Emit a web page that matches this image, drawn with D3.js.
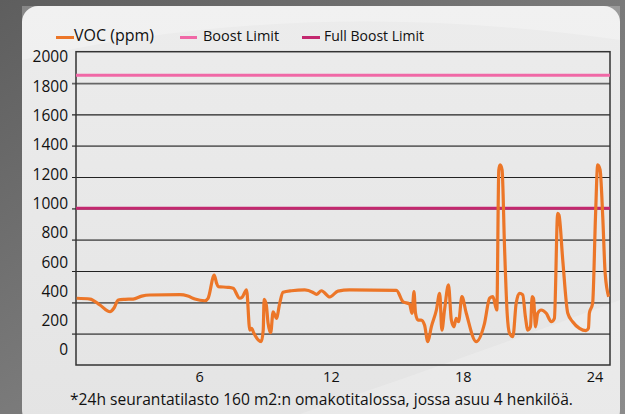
<!DOCTYPE html>
<html>
<head>
<meta charset="utf-8">
<script src="https://cdn.jsdelivr.net/npm/d3@7"></script>
<style>
  html, body { margin: 0; padding: 0; background: #6c6c6c; }
  svg { display: block; font-family: "Open Sans", "Noto Sans", sans-serif; }
</style>
</head>
<body>
<svg id="chart"></svg>
<script>
// hour of day, VOC in ppm
const hours = [0.43, 1.04, 1.49, 1.95, 2.13, 2.32, 2.63, 3.0, 3.39, 3.76, 5.13, 5.49, 5.81, 6.26, 6.41, 6.69, 6.8, 6.87, 7.32, 7.55,
  7.85, 7.96, 8.16, 8.31, 8.39, 8.49, 8.69, 8.83, 8.92, 8.96, 9.06, 9.14, 9.26, 9.37, 9.45, 9.52, 9.67, 9.82, 10.2, 10.81,
  11.19, 11.34, 11.57, 11.95, 12.32, 12.85, 14.98, 15.28, 15.58, 15.69, 15.78, 15.85, 15.96, 16.11, 16.26, 16.41, 16.57, 16.8, 16.95, 17.05,
  17.17, 17.35, 17.48, 17.6, 17.7, 17.81, 17.96, 18.16, 18.61, 18.99, 19.22, 19.37, 19.55, 19.64, 19.7, 19.79, 19.9, 20.02, 20.13, 20.28,
  20.43, 20.58, 20.73, 20.85, 20.96, 21.08, 21.16, 21.22, 21.31, 21.41, 21.57, 21.8, 22.03, 22.17, 22.32, 22.38, 22.55, 22.78, 23.0, 23.31,
  23.61, 23.72, 23.76, 23.91, 24.04, 24.14, 24.25, 24.37, 24.48, 24.64];
const voc = [426, 421, 383, 340, 364, 415, 419, 421, 440, 447, 449, 440, 421, 410, 426, 574, 521, 500, 496, 490,
  426, 432, 479, 223, 234, 204, 160, 149, 223, 419, 383, 268, 206, 340, 319, 298, 394, 464, 474, 479,
  463, 451, 474, 434, 472, 479, 476, 404, 389, 330, 468, 330, 287, 287, 255, 149, 244, 351, 458, 223,
  351, 511, 287, 244, 298, 276, 436, 330, 149, 266, 426, 436, 351, 1245, 1277, 1245, 755, 330, 202, 181,
  394, 458, 447, 308, 223, 244, 436, 426, 244, 330, 351, 330, 276, 298, 968, 957, 670, 330, 276, 234,
  219, 234, 330, 394, 947, 1277, 1245, 947, 585, 436];

const boostLimit = 1850;
const fullBoostLimit = 1000;

const yTicks = [0, 200, 400, 600, 800, 1000, 1200, 1400, 1600, 1800, 2000];
const xTicks = [6, 12, 18, 24];

const legendItems = [
  { label: "VOC (ppm)", color: "#ec7628" },
  { label: "Boost Limit", color: "#f068a6" },
  { label: "Full Boost Limit", color: "#c3286f" }
];
const footnote = "*24h seurantatilasto 160 m2:n omakotitalossa, jossa asuu 4 henkilöä.";

const W = 625, H = 414;
const plot = { left: 76, right: 610, top: 51.7, bottom: 365 };

const svg = d3.select("#chart").attr("width", W).attr("height", H);

// background
const defs = svg.append("defs");
const bg = defs.append("linearGradient").attr("id", "bg")
    .attr("x1", 0).attr("y1", 0).attr("x2", 1).attr("y2", 1);
bg.append("stop").attr("offset", 0).attr("stop-color", "#5e5e5e");
bg.append("stop").attr("offset", 0.5).attr("stop-color", "#7a7a7a");
bg.append("stop").attr("offset", 1).attr("stop-color", "#8c8c8c");
svg.append("rect").attr("width", W).attr("height", H).attr("fill", "url(#bg)");

const pg = defs.append("linearGradient").attr("id", "panel")
    .attr("x1", 0).attr("y1", 0).attr("x2", 0).attr("y2", 1);
pg.append("stop").attr("offset", 0).attr("stop-color", "#ececec");
pg.append("stop").attr("offset", 1).attr("stop-color", "#e4e4e4");

svg.append("rect")
    .attr("x", 22).attr("y", 6)
    .attr("width", 598).attr("height", 420)
    .attr("rx", 16)
    .attr("fill", "url(#panel)");

// soft highlights on the panel
svg.append("path")
    .attr("d", "M22,60 Q300,-5 620,40 L620,6 L22,6 Z")
    .attr("fill", "#ffffff").attr("opacity", 0.25);
svg.append("path")
    .attr("d", "M300,414 Q460,360 620,300 L620,414 Z")
    .attr("fill", "#ffffff").attr("opacity", 0.2);

// scales
const x = d3.scaleLinear().domain([0.4, 24.7]).range([plot.left, plot.right]);
const y = d3.scaleLinear().domain([0, 2000]).range([plot.bottom, plot.top]);
// the tick labels sit on their own, slightly tighter spacing
const yLabel = d3.scaleLinear().domain([0, 2000]).range([350, 57]);

// gridlines with small ticks poking out left of the frame
const grid = svg.append("g")
    .attr("transform", `translate(72,0)`)
    .call(d3.axisLeft(y).tickValues(yTicks.slice(1, -1)).tickSize(-(plot.right - 72)).tickFormat(""));
grid.select(".domain").remove();
grid.selectAll(".tick line")
    .attr("stroke", (d) => [600, 1200, 1600].includes(d) ? "#222" : "#666")
    .attr("stroke-width", (d) => [600, 1200, 1600].includes(d) ? 1.2 : 1.8);

// frame
svg.append("rect")
    .attr("x", plot.left).attr("y", plot.top)
    .attr("width", plot.right - plot.left).attr("height", plot.bottom - plot.top)
    .attr("fill", "none").attr("stroke", "#333").attr("stroke-width", 1.5);

// y labels
const yAxis = svg.append("g")
    .attr("transform", `translate(68,0)`)
    .call(d3.axisLeft(yLabel).tickValues(yTicks).tickSize(0).tickPadding(0).tickFormat(d3.format("d")));
yAxis.select(".domain").remove();
yAxis.selectAll("text")
    .attr("font-family", "Open Sans")
    .attr("font-size", 15.5)
    .attr("fill", "#111");

// x labels
const xAxis = svg.append("g")
    .attr("transform", `translate(0,${plot.bottom})`)
    .call(d3.axisBottom(x).tickValues(xTicks).tickSize(0).tickPadding(7));
xAxis.select(".domain").remove();
xAxis.selectAll("text")
    .attr("font-family", "Open Sans")
    .attr("font-size", 14.5)
    .attr("fill", "#111");

// limit lines
svg.append("line")
    .attr("x1", plot.left).attr("x2", plot.right)
    .attr("y1", y(boostLimit)).attr("y2", y(boostLimit))
    .attr("stroke", legendItems[1].color).attr("stroke-width", 3);
svg.append("line")
    .attr("x1", plot.left).attr("x2", plot.right)
    .attr("y1", y(fullBoostLimit)).attr("y2", y(fullBoostLimit))
    .attr("stroke", legendItems[2].color).attr("stroke-width", 3);

// VOC line
const data = hours.map((h, i) => ({ h: h, v: voc[i] }));
const line = d3.line()
    .x(d => x(d.h))
    .y(d => y(d.v))
    .curve(d3.curveMonotoneX);
svg.append("path")
    .datum(data)
    .attr("d", line)
    .attr("fill", "none")
    .attr("stroke", legendItems[0].color)
    .attr("stroke-width", 3.2)
    .attr("stroke-linejoin", "round");

// legend
const legendPos = [
  { sx: 56, sw: 18, tx: 74, size: 16 },
  { sx: 180, sw: 17, tx: 203, size: 14.5 },
  { sx: 302, sw: 18, tx: 324, size: 14 }
];
legendItems.forEach((item, i) => {
  const p = legendPos[i];
  svg.append("line")
      .attr("x1", p.sx).attr("x2", p.sx + p.sw)
      .attr("y1", 37.5).attr("y2", 37.5)
      .attr("stroke", item.color).attr("stroke-width", 3);
  svg.append("text")
      .attr("x", p.tx).attr("y", 40.5)
      .attr("font-size", p.size)
      .attr("fill", "#111")
      .text(item.label);
});

// footnote
svg.append("text")
    .attr("x", 70).attr("y", 405)
    .attr("font-size", 15.6)
    .attr("fill", "#111")
    .text(footnote);
</script>
</body>
</html>
